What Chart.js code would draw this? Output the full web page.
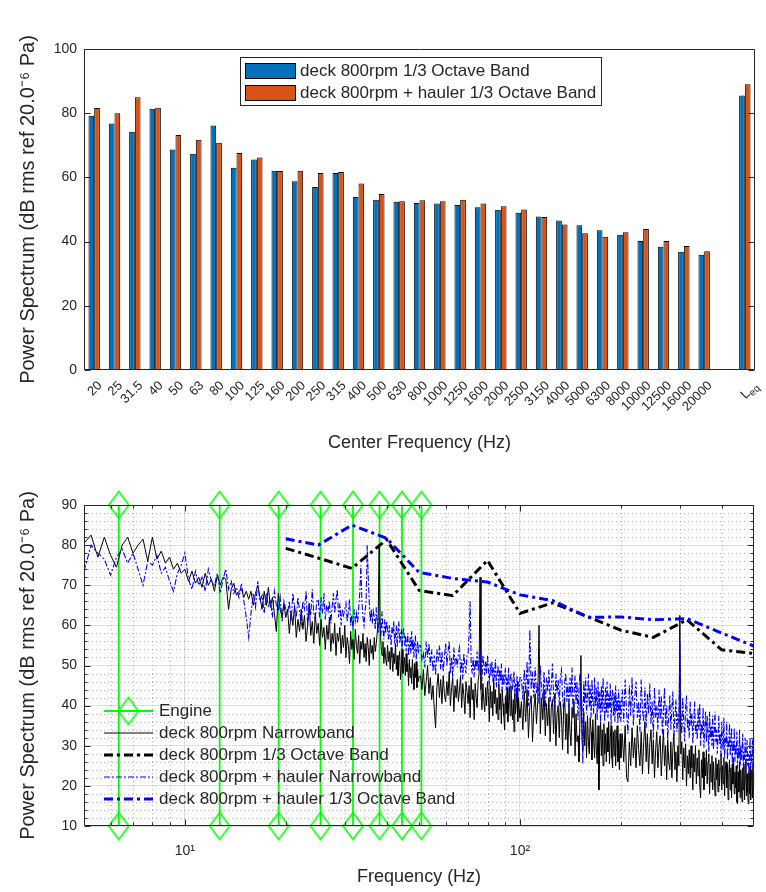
<!DOCTYPE html>
<html>
<head>
<meta charset="utf-8">
<script src="https://cdn.jsdelivr.net/npm/chart.js@4.4.0/dist/chart.umd.min.js"></script>
<style>
html,body{margin:0;padding:0;background:#fff;}
#wrap{position:relative;width:766px;height:892px;overflow:hidden;}
#c1{position:absolute;left:0;top:0;}
#c2{position:absolute;left:0;top:460px;}
</style>
</head>
<body>
<div id="wrap">
  <canvas id="c1" width="766" height="458"></canvas>
  <canvas id="c2" width="766" height="432"></canvas>
</div>
<script>
const fam = '"Liberation Sans", Arial, Helvetica, sans-serif';
const ink = '#262626';

// --- top panel: 1/3 octave band levels (dB) ---
const bandLabels = ['20','25','31.5','40','50','63','80','100','125','160','200','250','315','400','500','630','800','1000','1250','1600','2000','2500','3150','4000','5000','6300','8000','10000','12500','16000','20000'];
const deckOct = [79.2,76.8,74.2,81.4,68.7,67.4,76.2,63.0,65.6,62.1,
                 58.8,57.0,61.4,53.9,53.0,52.4,52.0,51.9,51.4,50.7,
                 49.9,49.0,47.8,46.6,45.1,43.5,42.1,40.2,38.4,36.8,
                 35.9];
const haulerOct = [81.6,80.0,85.0,81.7,73.2,71.7,70.8,67.6,66.2,62.0,
                   62.1,61.4,61.7,58.1,54.8,52.6,52.9,52.6,53.0,51.9,
                   51.0,50.0,47.7,45.3,42.6,41.5,42.9,43.9,40.2,38.6,
                   37.0];
const deckLeq = 85.5, haulerLeq = 89.0;

// --- bottom panel ---
const bandHz = [20,25,31.5,40,50,63,80,100,125,160,200,250,315,400,500]; // bands drawn on the lower panel
const engineHz = [6.35,12.7,19.05,25.4,31.75,38.1,44.45,50.8];
const engineSpan = [10, 90];
const decadeTicks = [10, 100];
const decadeLabels = ['10\u00B9', '10\u00B2'];
const minorHz = [6,7,8,9,20,30,40,50,60,70,80,90,200,300,400];
const minorDb = [12,14,16,18,22,24,26,28,32,34,36,38,42,44,46,48,52,54,56,58,62,64,66,68,72,74,76,78,82,84,86,88];

// narrowband spectra
const nbHz = [
  // 5 - 20 Hz
  5,5.25,5.5,5.75,6,6.25,6.5,6.75,7,7.25,
  7.5,7.75,8,8.25,8.5,8.75,9,9.25,9.5,9.75,
  10,10.25,10.5,10.75,11,11.25,11.5,11.75,12,12.25,
  12.5,12.75,13,13.25,13.5,13.75,14,14.25,14.5,14.75,
  15,15.25,15.5,15.75,16,16.25,16.5,16.75,17,17.25,
  17.5,17.75,18,18.25,18.5,18.75,19,19.25,19.5,19.75,
  20,
  // 20 - 50 Hz
  20.25,20.5,20.75,21,21.25,21.5,21.75,22,22.25,22.5,
  22.75,23,23.25,23.5,23.75,24,24.25,24.5,24.75,25,
  25.25,25.5,25.75,26,26.25,26.5,26.75,27,27.25,27.5,
  27.75,28,28.25,28.5,28.75,29,29.25,29.5,29.75,30,
  30.25,30.5,30.75,31,31.25,31.5,31.75,32,32.25,32.5,
  32.75,33,33.25,33.5,33.75,34,34.25,34.5,34.75,35,
  35.25,35.5,35.75,36,36.25,36.5,36.75,37,37.25,37.5,
  37.75,38,38.25,38.5,38.75,39,39.25,39.5,39.75,40,
  40.25,40.5,40.75,41,41.25,41.5,41.75,42,42.25,42.5,
  42.75,43,43.25,43.5,43.75,44,44.25,44.5,44.75,45,
  45.25,45.5,45.75,46,46.25,46.5,46.75,47,47.25,47.5,
  47.75,48,48.25,48.5,48.75,49,49.25,49.5,49.75,50,
  // 50 - 100 Hz
  50.5,51,51.5,52,52.5,53,53.5,54,54.5,55,
  55.5,56,56.5,57,57.5,58,58.5,59,59.5,60,
  60.5,61,61.5,62,62.5,63,63.5,64,64.5,65,
  65.5,66,66.5,67,67.5,68,68.5,69,69.5,70,
  70.5,71,71.5,72,72.5,73,73.5,74,74.5,75,
  75.5,76,76.5,77,77.5,78,78.5,79,79.5,80,
  80.5,81,81.5,82,82.5,83,83.5,84,84.5,85,
  85.5,86,86.5,87,87.5,88,88.5,89,89.5,90,
  90.5,91,91.5,92,92.5,93,93.5,94,94.5,95,
  95.5,96,96.5,97,97.5,98,98.5,99,99.5,100,
  // 100 - 200 Hz
  101,102,103,104,105,106,107,108,109,110,
  111,112,113,114,115,116,117,118,119,120,
  121,122,123,124,125,126,127,128,129,130,
  131,132,133,134,135,136,137,138,139,140,
  141,142,143,144,145,146,147,148,149,150,
  151,152,153,154,155,156,157,158,159,160,
  161,162,163,164,165,166,167,168,169,170,
  171,172,173,174,175,176,177,178,179,180,
  181,182,183,184,185,186,187,188,189,190,
  191,192,193,194,195,196,197,198,199,200,
  // 200 - 500 Hz
  202,204,206,208,210,212,214,216,218,220,
  222,224,226,228,230,232,234,236,238,240,
  242,244,246,248,250,252,254,256,258,260,
  262,264,266,268,270,272,274,276,278,280,
  282,284,286,288,290,292,294,296,298,300,
  302,304,306,308,310,312,314,316,318,320,
  322,324,326,328,330,332,334,336,338,340,
  342,344,346,348,350,352,354,356,358,360,
  362,364,366,368,370,372,374,376,378,380,
  382,384,386,388,390,392,394,396,398,400,
  402,404,406,408,410,412,414,416,418,420,
  422,424,426,428,430,432,434,436,438,440,
  442,444,446,448,450,452,454,456,458,460,
  462,464,466,468,470,472,474,476,478,480,
  482,484,486,488,490,492,494,496,498,500
];
const deckNb = [
  80.5,82.5,77,82,77.5,74.5,80,82,78,80,
  81.5,76,82,76.5,78.5,75.5,77,74,75.5,73,
  74,71,73.5,70.5,72,69.5,73,70,71.5,68.5,
  72.5,70,72,71.5,64,69,70.5,67.5,68.5,69,
  67,68.5,66.5,68.5,65,68,70,67,64,68.5,
  65,69.5,64.5,67,63,58.5,68,64,62,65.5,
  62,
  64,58,63.5,60,65,57,61.5,58.5,64,59,
  62.5,56,60,65.5,57.5,61,55.5,63,58,60.5,
  55,61.5,57,59.5,54,60,56.5,62,53.5,58,
  55.5,60.5,52.5,58,56,59.5,53,57.5,54.5,60,
  52,57,55,50.5,58.5,54,56.5,51.5,59,55,
  53,57.5,50.5,56,54,58,52,55.5,51,57,
  54.5,50,56.5,53,55,51.5,57,53.5,55.5,58,
  62,80,60,55,52.5,56,50.5,54.5,51.5,50,
  55,51,53.5,49,54.5,52,48.5,53,50.5,55.5,
  49,52.5,47.5,51,53.5,46.5,50,54,48,50,
  52,47.5,53,48.5,50.5,45,51.5,47,49.5,45.5,
  51.5,48,44,50.5,47,51,44.5,49,46,47,
  47.5,44,49,42.5,46,50,43,47,41.5,45,
  39,34.5,44.5,48,42,46.5,40.5,47.5,43,41,
  46,42.5,48.5,40,44.5,47,38.5,45,42,46.5,
  41,44,47.5,39.5,45.5,42.5,38,46,43.5,40.5,
  45,37,47,41.5,44,36.5,45.5,42,39.5,46,
  48,72,44,39,45.5,41,38.5,44.5,40,46,
  42.5,36,45,39.5,43.5,37.5,47,40.5,44,38,
  42,36.5,45.5,39,43,35.5,44,40.5,37.5,34,
  42.5,38,44.5,36,41,43.5,37.5,45,39,36.5,
  41.5,33.5,43,38,40.5,44.5,36,42,39,37,
  41,34,43.5,36,44,32,40,42.5,31,39,
  43,35.5,41,60,33,42,36.5,44,32.5,40.5,
  35,42,31,39.5,41.5,33,43,30,38,40,
  32,41,37.5,29,39,42,31.5,38,28,40.5,
  33.5,30,39.5,37,41,27.5,38,31,32.5,26,
  37,52.5,32,28.5,38.5,30,36,27,37.5,31,
  28,37,33.5,26.5,36.5,31,27,38,29,25.5,
  35,19,30.5,36,27.5,34,25,35.5,28,33,
  26,34.5,28.5,36,25.5,32,35,27,24.5,33.5,
  27.5,34,25,32.5,35,26,31.5,24,33,27,
  33,26,35,22,21,31,25,34.5,27,32,
  24.5,35,29,25,33.5,23,31,36,26,33,
  23,30.5,34,25.5,31.5,22,29,33.5,24.5,30,
  32.5,22.5,28.5,34,25,30,21.5,31.5,26,24,
  31,22,29.5,33,24,28.5,21,30,25,62.5,
  28,31,21.5,29.5,24.5,30.5,20,27.5,23,29,
  22,30,24.5,19,28,23.5,30,20.5,27,22.5,
  29,20,17,26.5,22,28.5,19,27,22.5,29,
  20.5,26,28,18,25.5,21,27.5,19,26,22,
  17.5,27,21.5,25.5,18.5,26.5,20,24.5,28,19,
  25,20.5,27,17.5,24,26,19.5,25.5,16.5,23,
  26.5,19,24.5,17,25.5,20.5,27,18,23.5,19.5,
  25,16,15.5,23.5,18.5,26,17,24,20,16,
  24.5,19,25.5,16.5,22.5,26,17.5,23,18.5,15.5,
  23.5,18,25,16.5,22,24,17,25.5,19,23
];
const haulerNb = [
  73.5,80,78,76.5,72.5,77,79,75.5,78,74,
  70,76,75,77.5,73,74.5,71,68.5,73,75,
  78,71.5,69,73.5,70,72,68.5,74,71,70,
  73,68,71.5,74,69,71,68,69.5,67,70.5,
  66,62,57,63,68,64.5,71,66,67.5,63,
  68,64.5,66.5,62,68.5,65,63.5,67,61,66,
  64,
  63,66,61,68,64.5,62,67,63.5,60.5,66,
  64,68.5,60,65.5,62.5,69,63,61.5,66,66.5,
  62,67,63,68,61.5,65,63.5,66,60.5,64.5,
  68,63,66.5,69,62,65.5,60,64,62.5,64,
  65.5,61,63.5,66.5,60,62.5,59,64,61,63,
  60.5,64,68,75,66,62,60,63.5,66,80,
  72,66,61,64,60.5,63.5,62,59,64.5,61,
  58,62,60.5,57.5,63.5,59,56.5,61.5,58,61,
  59,56.5,60,57,55,59.5,58,61,56,57,
  60,54.5,58.5,61,55.5,57,59,54,58,59.5,
  55,57.5,53.5,56,58,52.5,55,57,53,58.5,
  54,56.5,52,55.5,57.5,51.5,54,56,53,55,
  55,51.5,53,49.5,56,52,55.5,50,54,48.5,
  52.5,47.5,54,51,55,49,53.5,48.5,52,55.5,
  50,53.5,56,48,52,47,54.5,50.5,52,49.5,
  53,54.5,48,51.5,46.5,53,50,48,52.5,53,
  58,66,50.5,48,52,47,51.5,49,53.5,48.5,
  51,54,49.5,46,52.5,50.5,47.5,51,48,52.5,
  49,45,50.5,47.5,51,46,49.5,47,51.5,44.5,
  48,50,45.5,49,46,50.5,43.5,48,45,47.5,
  49.5,44,47,45,49.5,42.5,46.5,48,47,44,
  46,48.5,43,45.5,41.5,47.5,44,46,43.5,47,
  47,41.5,49,43,51,40,59,44,48.5,42,
  49.5,43,45.5,40.5,50,44,42,48.5,39,47,
  43.5,49,41,45,50.5,42.5,39,48,43,46.5,
  40,47.5,49,42,38.5,46,48,41,45.5,39.5,
  47,42,49.5,38,43,47.5,40.5,46,36.5,44.5,
  48,39,41.5,25.5,46,40.5,47,38,42,48,
  39.5,45,37,46.5,41,38,47,40,44.5,36.5,
  46,39,43.5,35.5,45,38.5,47,40,36,44.5,
  38,46,37,43,39.5,45.5,35,42.5,44,37.5,
  43,36,45,38.5,42,35.5,44,37,41.5,36,
  44,36,46.5,38.5,33,45,37.5,47,35,42,
  46,37,41,33.5,46.5,39,36,44.5,34.5,43,
  38,45.5,35.5,41,32,44.5,37,40,34,44,
  36.5,42.5,33,38,44.5,35,40,31.5,37.5,42.5,
  34,39.5,43.5,32.5,37,41.5,33.5,38,35.5,56,
  38,33,42,36,31,39.5,42.5,34.5,36.5,32,
  41,35,38,30.5,36,41,33,35.5,31.5,39.5,
  34,40.5,30,35.5,33,39.5,29.5,34.5,38.5,31,
  37.5,33,28.5,38.5,32,35,30,37.5,29,33.5,
  38.5,31,34,28,32.5,37.5,30.5,33,27.5,36,
  31.5,29,37,27,32,30.5,36,26.5,31,29.5,
  35.5,27.5,30.5,34.5,25.5,31,28.5,34.5,26,30,
  28,33.5,24.5,29.5,27,34,25,30,26.5,28.5,
  33,24,28.5,26.5,32,23,27.5,31.5,25,28,
  23,27.5,32,24.5,28,26,31.5,24,27,33
];

// --- helpers ---
function pairs(xs, ys){
  const n = Math.min(xs.length, ys.length), out = [];
  for(let i=0;i<n;i++) out.push({x:xs[i], y:ys[i]});
  return out;
}

// MATLAB-like diamond marker (taller than wide)
const diamond = document.createElement('canvas');
diamond.width = 24; diamond.height = 31;
(function(){
  const g = diamond.getContext('2d');
  g.strokeStyle = '#00ff00'; g.lineWidth = 1.6;
  g.beginPath(); g.moveTo(12,2); g.lineTo(22,15.5); g.lineTo(12,29); g.lineTo(2,15.5); g.closePath(); g.stroke();
})();

const engineData = [];
engineHz.forEach(f=>{
  engineData.push({x:f, y:engineSpan[0]}, {x:f, y:engineSpan[1]}, {x:f, y:null});
});

// --- top panel decorations: box, inward ticks, L_eq label, legend ---
const topDeco = {
  id:'topDeco',
  afterDraw(chart){
    const {ctx, chartArea:a, scales:{x, y}} = chart;
    ctx.save();
    ctx.strokeStyle = ink; ctx.lineWidth = 1;
    const L = Math.round(a.left)+0.5, R = Math.round(a.right)-0.5, T = Math.round(a.top)+0.5, B = Math.round(a.bottom)-0.5;
    ctx.beginPath();
    ctx.rect(L, T, R-L, B-T);
    y.ticks.forEach(t=>{
      const py = Math.round(y.getPixelForValue(t.value))+0.5;
      ctx.moveTo(L, py); ctx.lineTo(L+6, py);
      ctx.moveTo(R, py); ctx.lineTo(R-6, py);
    });
    ctx.stroke();

    // L_eq tick label with subscript
    const px = x.getPixelForValue(bandLabels.length + 1);
    ctx.translate(px + 11, a.bottom + 14);
    ctx.rotate(-Math.PI/4);
    ctx.fillStyle = ink; ctx.textBaseline = 'middle'; ctx.textAlign = 'left';
    ctx.font = '13px ' + fam; const wL = ctx.measureText('L').width;
    ctx.font = '10px ' + fam; const wE = ctx.measureText('eq').width;
    ctx.font = '13px ' + fam; ctx.fillText('L', -(wL+wE), 0);
    ctx.font = '10px ' + fam; ctx.fillText('eq', -wE, 4);
    ctx.setTransform(1,0,0,1,0,0);

    // legend
    ctx.fillStyle = '#fff';
    ctx.fillRect(240, 57, 361, 48);
    ctx.strokeStyle = ink;
    ctx.strokeRect(240.5, 57.5, 361, 48);
    chart.data.datasets.forEach((ds, i)=>{
      const yy = 63 + i*22;
      ctx.fillStyle = ds.backgroundColor;
      ctx.fillRect(245, yy, 50, 15);
      ctx.strokeStyle = '#000';
      ctx.strokeRect(245.5, yy+0.5, 50, 15);
      ctx.fillStyle = ink; ctx.font = '17px ' + fam;
      ctx.textBaseline = 'middle'; ctx.textAlign = 'left';
      ctx.fillText(ds.label, 300, yy + 8.5);
    });
    ctx.restore();
  }
};

// --- bottom panel decorations ---
const botDeco = {
  id:'botDeco',
  beforeDatasetsDraw(chart){
    const {ctx, chartArea:a, scales:{x, y}} = chart;
    ctx.save();
    ctx.strokeStyle = 'rgba(40,40,40,0.35)'; ctx.lineWidth = 1;
    ctx.setLineDash([1,3]);
    ctx.beginPath();
    minorHz.forEach(f=>{
      const px = Math.round(x.getPixelForValue(f))+0.5;
      ctx.moveTo(px, a.top); ctx.lineTo(px, a.bottom);
    });
    minorDb.forEach(v=>{
      const py = Math.round(y.getPixelForValue(v))+0.5;
      ctx.moveTo(a.left, py); ctx.lineTo(a.right, py);
    });
    ctx.stroke();
    ctx.restore();
  },
  afterDraw(chart){
    const {ctx, chartArea:a, scales:{x, y}} = chart;
    ctx.save();
    ctx.strokeStyle = ink; ctx.lineWidth = 1;
    const L = Math.round(a.left)+0.5, R = Math.round(a.right)-0.5, T = Math.round(a.top)+0.5, B = Math.round(a.bottom)-0.5;
    ctx.beginPath();
    ctx.rect(L, T, R-L, B-T);
    const tickY = (v, len)=>{
      const py = Math.round(y.getPixelForValue(v))+0.5;
      ctx.moveTo(L, py); ctx.lineTo(L+len, py);
      ctx.moveTo(R, py); ctx.lineTo(R-len, py);
    };
    const tickX = (f, len)=>{
      const px = Math.round(x.getPixelForValue(f))+0.5;
      ctx.moveTo(px, B); ctx.lineTo(px, B-len);
      ctx.moveTo(px, T); ctx.lineTo(px, T+len);
    };
    y.ticks.forEach(t=>tickY(t.value, 6));
    minorDb.forEach(v=>tickY(v, 3));
    decadeTicks.forEach(f=>tickX(f, 6));
    minorHz.forEach(f=>tickX(f, 3));
    ctx.stroke();

    // legend (no box)
    const rows = chart.data.datasets;
    ctx.font = '17px ' + fam; ctx.textBaseline = 'middle'; ctx.textAlign = 'left';
    rows.forEach((ds, i)=>{
      const yy = 251 + i*22;
      ctx.save();
      ctx.strokeStyle = ds.borderColor;
      ctx.lineWidth = ds.borderWidth;
      ctx.setLineDash(ds.borderDash || []);
      ctx.beginPath(); ctx.moveTo(104, yy); ctx.lineTo(153, yy); ctx.stroke();
      ctx.restore();
      if(ds.pointStyle && typeof ds.pointStyle === 'object'){
        ctx.drawImage(ds.pointStyle, 128.5 - ds.pointStyle.width/2, yy - ds.pointStyle.height/2);
      }
      ctx.fillStyle = ink;
      ctx.fillText(ds.label, 159, yy);
    });
    ctx.restore();
  }
};

// --- top chart ---
new Chart(document.getElementById('c1'), {
  type:'bar',
  data:{
    labels:[...bandLabels, '', 'Leq'],
    datasets:[
      {label:'deck 800rpm 1/3 Octave Band', data:[...deckOct, 0, deckLeq],
       backgroundColor:'#0072BD', borderColor:'#000', borderWidth:1, categoryPercentage:0.56, barPercentage:1},
      {label:'deck 800rpm + hauler 1/3 Octave Band', data:[...haulerOct, 0, haulerLeq],
       backgroundColor:'#D95319', borderColor:'#000', borderWidth:1, categoryPercentage:0.56, barPercentage:1}
    ]
  },
  options:{
    responsive:false, animation:false,
    layout:{padding:{top:49, right:11, left:0, bottom:0}},
    plugins:{legend:{display:false}, tooltip:{enabled:false}},
    scales:{
      x:{
        grid:{display:false, drawTicks:false}, border:{display:false},
        ticks:{autoSkip:false, maxRotation:45, minRotation:45, padding:8, labelOffset:6, color:ink,
               font:{family:fam, size:13},
               callback(v){ const l = this.getLabelForValue(v); return l === 'Leq' ? '' : l; }},
        title:{display:true, text:'Center Frequency (Hz)', color:ink, font:{family:fam, size:18}, padding:{top:0, bottom:4}},
        afterFit(s){ s.height = 88; }
      },
      y:{
        min:0, max:100,
        grid:{display:false, drawTicks:false}, border:{display:false},
        ticks:{stepSize:20, padding:7, color:ink, font:{family:fam, size:14}},
        title:{display:true, text:'Power Spectrum (dB rms ref 20.0\u207B\u2076 Pa)', color:ink, font:{family:fam, size:20}, padding:{top:16, bottom:0}},
        afterFit(s){ s.width = 84; }
      }
    }
  },
  plugins:[topDeco]
});

// --- bottom chart ---
new Chart(document.getElementById('c2'), {
  type:'line',
  data:{
    datasets:[
      {label:'Engine', data:engineData, borderColor:'#00ff00', borderWidth:1.8,
       pointStyle:diamond, pointRadius:10, clip:false, order:5},
      {label:'deck 800rpm Narrowband', data:pairs(nbHz, deckNb), borderColor:'#000', borderWidth:1,
       pointRadius:0, order:4},
      {label:'deck 800rpm 1/3 Octave Band', data:pairs(bandHz, deckOct), borderColor:'#000', borderWidth:3,
       borderDash:[9,4,3,4], pointRadius:0, order:3},
      {label:'deck 800rpm + hauler Narrowband', data:pairs(nbHz, haulerNb), borderColor:'#0000ff', borderWidth:1.1,
       borderDash:[6,2,2,2], pointRadius:0, order:2},
      {label:'deck 800rpm + hauler 1/3 Octave Band', data:pairs(bandHz, haulerOct), borderColor:'#0000ff', borderWidth:3,
       borderDash:[9,4,3,4], pointRadius:0, order:1}
    ]
  },
  options:{
    responsive:false, animation:false,
    layout:{padding:{top:45, right:11, left:0, bottom:0}},
    plugins:{legend:{display:false}, tooltip:{enabled:false}},
    elements:{line:{tension:0}},
    scales:{
      x:{
        type:'logarithmic', min:5, max:500,
        afterBuildTicks(s){ s.ticks = decadeTicks.map(v=>({value:v})); },
        grid:{color:'#dedede', drawTicks:false}, border:{display:false},
        ticks:{autoSkip:false, maxRotation:0, padding:17, color:ink, font:{family:fam, size:14},
               callback(v, i){ return decadeLabels[i]; }},
        title:{display:true, text:'Frequency (Hz)', color:ink, font:{family:fam, size:18}, padding:{top:0, bottom:4}},
        afterFit(s){ s.height = 66; }
      },
      y:{
        min:10, max:90,
        grid:{color:'#dedede', drawTicks:false}, border:{display:false},
        ticks:{stepSize:10, padding:7, color:ink, font:{family:fam, size:14}},
        title:{display:true, text:'Power Spectrum (dB rms ref 20.0\u207B\u2076 Pa)', color:ink, font:{family:fam, size:20}, padding:{top:16, bottom:0}},
        afterFit(s){ s.width = 84; }
      }
    }
  },
  plugins:[botDeco]
});
</script>
</body>
</html>
